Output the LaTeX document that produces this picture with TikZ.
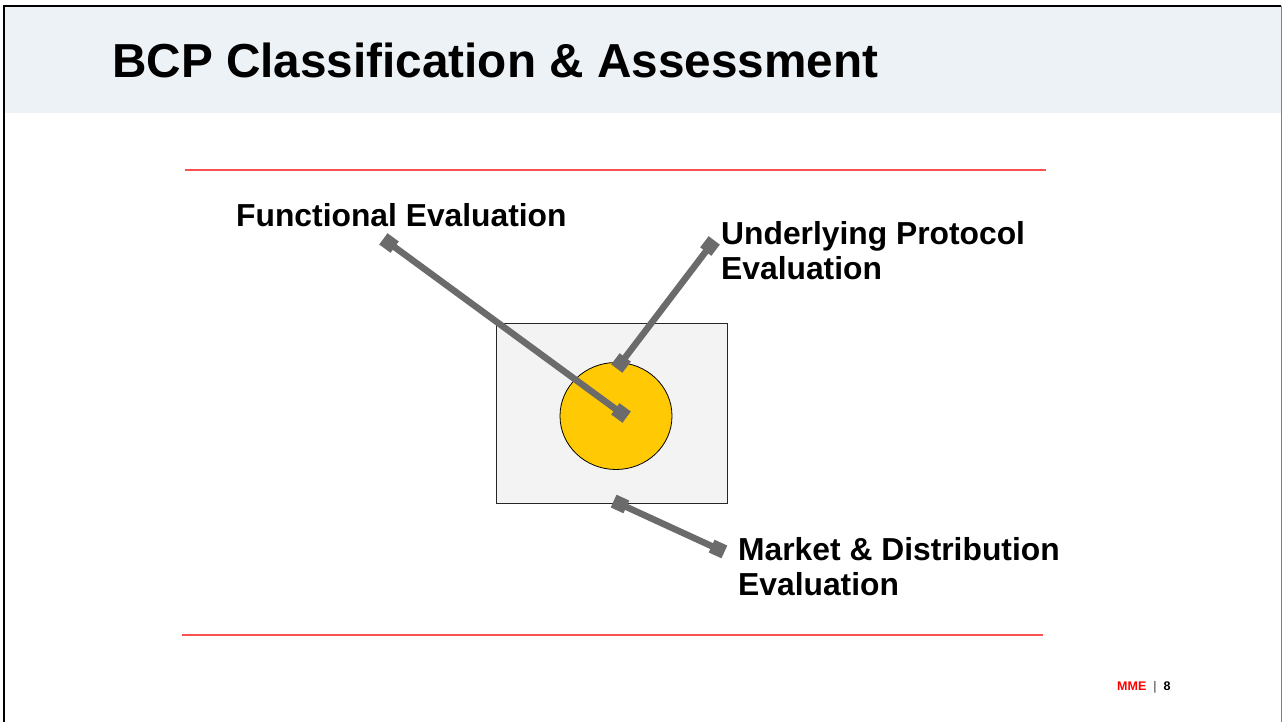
\documentclass[tikz,border=0pt]{standalone}
\usepackage{fontspec}
\setmainfont{Liberation Sans}
\usetikzlibrary{shapes.geometric}
\definecolor{headbg}{HTML}{EDF2F7}
\definecolor{boxfill}{HTML}{F3F3F3}
\definecolor{gold}{HTML}{FFC903}
\definecolor{conn}{HTML}{6B6B6B}
\definecolor{redline}{RGB}{250,80,80}
\definecolor{mmered}{HTML}{FF0000}
\tikzset{
  label32/.style={inner sep=0pt, font=\fontsize{31.8}{35.5}\selectfont\bfseries, align=left},
  connector/.style={draw=conn, line width=6.5pt},
  sqmark/.style={fill=conn, minimum size=14pt, inner sep=0pt, sloped},
  redrule/.style={draw=redline, line width=1.2pt},
}
\begin{document}
\begin{tikzpicture}[x=1pt,y=-1pt]
\useasboundingbox (0,0) rectangle (1283,722);
\fill[white] (0,0) rectangle (1283,722);
% header band
\fill[headbg] (4,6) rectangle (1281,113);
% frame
\draw[black, line width=2.5pt] (4,722) -- (4,6) -- (1281,6);
\draw[gray, line width=1pt] (1281,6) -- (1281,722);
% title
\node[inner sep=0pt, anchor=base west, font=\fontsize{47.7}{56}\selectfont\bfseries] (title) at (112,78) {BCP Classification \& Assessment};
% red rules
\coordinate (r1a) at (185,170); \coordinate (r1b) at (1046,170);
\coordinate (r2a) at (182,635); \coordinate (r2b) at (1043,635);
\draw[redrule] (r1a) -- (r1b);
\draw[redrule] (r2a) -- (r2b);
% box and circle
\node[draw=black!85, line width=0.8pt, fill=boxfill, minimum width=231pt, minimum height=180pt, inner sep=0pt] (box) at (611.5,413) {};
\node[draw=black, line width=0.8pt, fill=gold, ellipse, minimum width=112pt, minimum height=107pt, inner sep=0pt] (core) at (616,416) {};
% labels
\node[label32, anchor=base west] (func) at (236,227) {Functional Evaluation};
\node[label32, anchor=north west] (proto) at (721,221) {Underlying Protocol\\Evaluation};
\node[label32, anchor=north west] (market) at (738,537) {Market \& Distribution\\Evaluation};
% connector end points
\coordinate (f1) at (389,243); \coordinate (f2) at (621,413);
\coordinate (p1) at (621,363); \coordinate (p2) at (710,246);
\coordinate (m1) at (620,504); \coordinate (m2) at (718,549);
\draw[connector] (f1) -- (f2) node[sqmark, pos=0] {} node[sqmark, pos=1] {};
\draw[connector] (p1) -- (p2) node[sqmark, pos=0] {} node[sqmark, pos=1] {};
\draw[connector] (m1) -- (m2) node[sqmark, pos=0] {} node[sqmark, pos=1] {};
% footer
\node[inner sep=0pt, anchor=base west, font=\fontsize{12.5}{14}\selectfont\bfseries] (foot) at (1117,690) {\textcolor{mmered}{MME}\hspace{7pt}{\mdseries\textcolor{black!80}{|}}\hspace{7pt}8};
\end{tikzpicture}
\end{document}
